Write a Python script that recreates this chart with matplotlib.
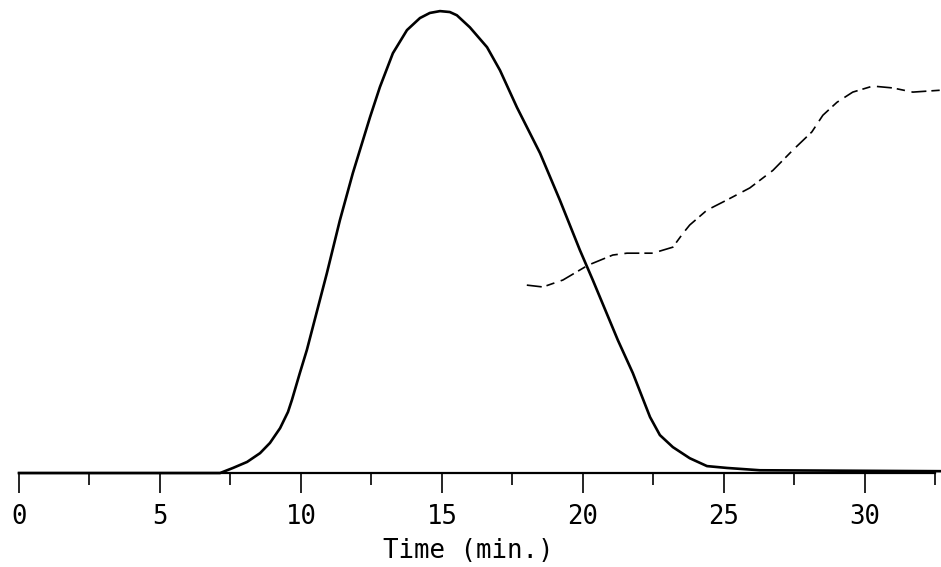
import matplotlib.pyplot as plt
from matplotlib.ticker import FixedLocator

# main elution peak
t_peak = [0.0, 6.42, 7.13, 7.59, 8.09, 8.55, 8.90, 9.26, 9.54, 9.68, 9.96,
          10.21, 10.92, 11.38, 11.84, 12.45, 12.80, 13.26, 13.76, 14.22,
          14.57, 14.93, 15.28, 15.53, 15.99, 16.60, 17.06, 17.66, 18.48, 19.18,
          19.89, 20.35, 21.24, 21.77, 22.38, 22.73, 23.19, 23.79, 24.40, 25.11,
          26.28, 32.70]
y_peak = [0.0, 0.0, 0.0, 1.1, 2.4, 4.3, 6.5, 9.7, 13.2, 15.8, 21.6,
          26.6, 43.2, 54.6, 64.8, 76.9, 83.4, 90.7, 95.7, 98.3,
          99.4, 99.8, 99.6, 98.9, 96.3, 92.0, 87.0, 79.0, 69.1, 59.0,
          48.2, 41.7, 28.7, 21.6, 12.1, 8.2, 5.6, 3.2, 1.5, 1.1,
          0.6, 0.4]

# second (dashed) trace
t_grad = [18.01, 18.58, 19.29, 20.18, 21.06, 21.56, 22.48, 23.19, 23.55, 23.79,
          24.40, 25.11, 25.92, 26.74, 27.45, 28.12, 28.51, 29.01, 29.57, 30.28,
          30.99, 31.70, 32.66]
y_grad = [40.6, 40.2, 41.7, 44.9, 47.1, 47.5, 47.5, 48.8, 51.8, 53.6,
          56.8, 59.0, 61.6, 65.4, 69.8, 73.7, 77.3, 80.1, 82.3, 83.6,
          83.2, 82.3, 82.7]

major_ticks = [0, 5, 10, 15, 20, 25, 30]
minor_ticks = [2.5, 7.5, 12.5, 17.5, 22.5, 27.5, 32.5]

fig = plt.figure(figsize=(9.41, 5.67), dpi=100)
ax = fig.add_axes([0, 0, 1, 1])
ax.plot(t_peak, y_peak, color='black', lw=1.9, solid_joinstyle='round')
ax.plot(t_grad, y_grad, color='black', lw=1.2, linestyle=(0, (9, 3, 5, 4)))

ax.set_xlim(-0.674, 32.70)
ax.set_ylim(-20.3, 102.2)

for s in ['top', 'left', 'right']:
    ax.spines[s].set_visible(False)
ax.spines['bottom'].set_position(('data', 0))
ax.spines['bottom'].set_bounds(0, 32.5)
ax.spines['bottom'].set_linewidth(1.6)
ax.set_yticks([])
ax.xaxis.set_major_locator(FixedLocator(major_ticks))
ax.xaxis.set_minor_locator(FixedLocator(minor_ticks))
ax.set_xticklabels([str(v) for v in major_ticks], family='DejaVu Sans Mono', fontsize=18.5)
ax.tick_params(axis='x', which='major', direction='out', length=14.4, width=1.2, pad=8)
ax.tick_params(axis='x', which='minor', direction='out', length=8.6, width=1.2)

fig.text(468 / 941, 1 - 551 / 567, 'Time (min.)', ha='center', va='center',
         family='DejaVu Sans Mono', fontsize=18.5)

fig.savefig('out.png', dpi=100)
